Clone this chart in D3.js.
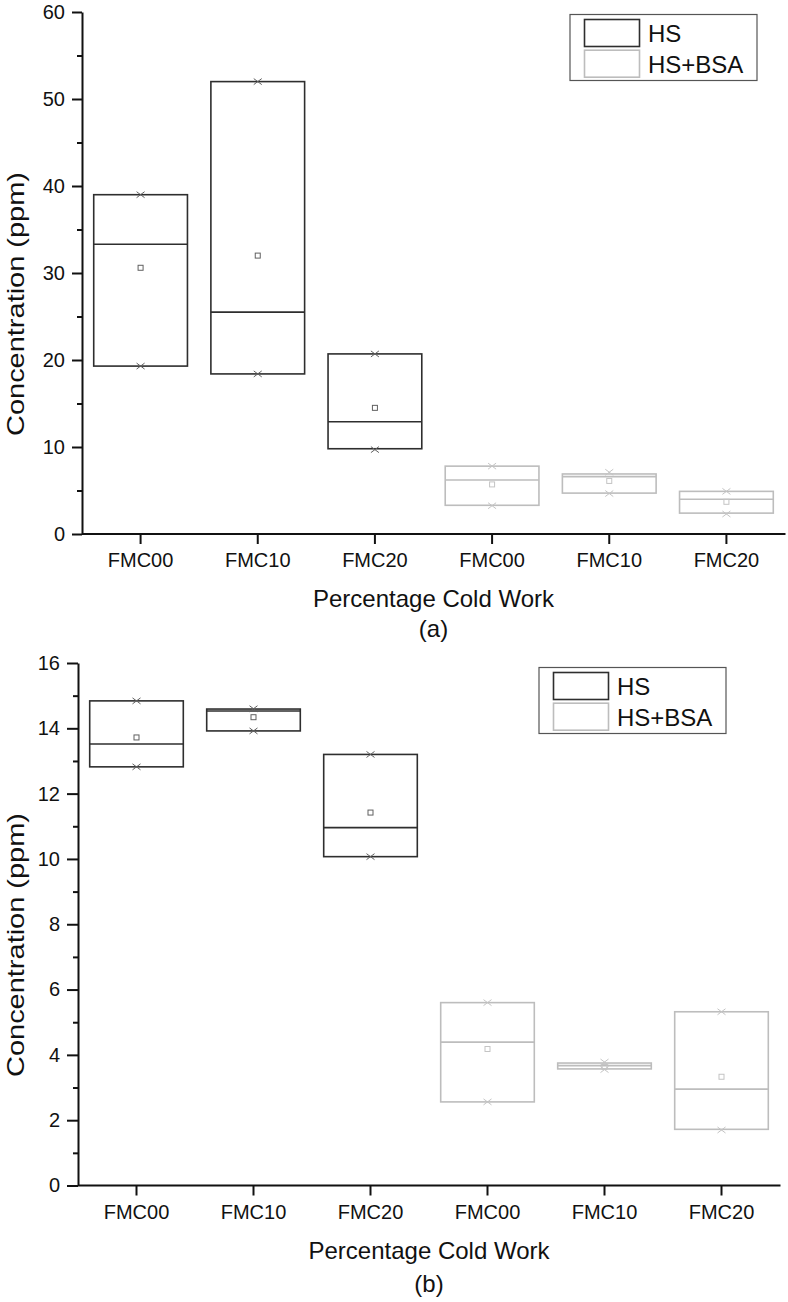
<!DOCTYPE html>
<html>
<head>
<meta charset="utf-8">
<script src="https://cdn.jsdelivr.net/npm/d3@7"></script>
<style>
  body{margin:0;background:#fff;}
  text{font-family:"Liberation Sans",Arial,sans-serif;fill:#111;}
</style>
</head>
<body>
<div class="content"></div>
<script>
const SVG_WIDTH = 788;
const SVG_HEIGHT = 1302;

// categories along the x axis (same names repeat for the two series)
const groups = ["FMC00","FMC10","FMC20","FMC00","FMC10","FMC20"];
const series = ["HS","HS","HS","HS+BSA","HS+BSA","HS+BSA"];
const seriesNames = ["HS","HS+BSA"];

// panel (a)
const boxLowA  = [19.3, 18.4, 9.8, 3.3, 4.7, 2.4];
const boxHighA = [39.0, 52.0, 20.7, 7.8, 6.9, 4.9];
const medianA  = [33.3, 25.5, 12.9, 6.2, 6.6, 4.0];
const meanA    = [30.6, 32.0, 14.5, 5.7, 6.1, 3.7];
const minA     = [19.3, 18.4, 9.7, 3.25, 4.65, 2.3];
const maxA     = [39.0, 52.0, 20.7, 7.8, 7.1, 4.9];
const ticksA   = [0,10,20,30,40,50,60];

// panel (b)
const boxLowB  = [12.82, 13.92, 10.07, 2.56, 3.57, 1.72];
const boxHighB = [14.84, 14.59, 13.2, 5.6, 3.75, 5.32];
const medianB  = [13.52, 14.53, 10.96, 4.39, 3.67, 2.95];
const meanB    = [13.72, 14.34, 11.42, 4.18, 3.63, 3.33];
const minB     = [12.82, 13.92, 10.07, 2.56, 3.55, 1.7];
const maxB     = [14.84, 14.6, 13.2, 5.6, 3.78, 5.32];
const ticksB   = [0,2,4,6,8,10,12,14,16];

const strokeColor = {"HS":"#2e2e2e","HS+BSA":"#bdbdbd"};
const markColor = {"HS":"#606060","HS+BSA":"#c4c4c4"};

const svg = d3.select(".content").append("svg").attr("width",SVG_WIDTH).attr("height",SVG_HEIGHT);

function drawPanel(p){
    let rows = groups.map((g,i)=>({i:i,group:g,series:series[i],lo:p.lo[i],hi:p.hi[i],med:p.med[i],mean:p.mean[i],min:p.min[i],max:p.max[i]}));

    let x = d3.scaleBand().domain(d3.range(groups.length)).range([p.left,p.right]).paddingInner(0.2).paddingOuter(0.1);
    let y = d3.scaleLinear().domain([0,p.ymax]).range([p.bottom,p.top]);
    let g = svg.append("g");

    //minor ticks
    let minor = d3.range(p.ticks[0]+p.minorStep, p.ymax, p.ticks[1]-p.ticks[0]);
    g.append("g").attr("transform","translate("+p.left+",0)")
        .call(d3.axisLeft(y).tickValues(minor).tickSize(5).tickFormat(""))
        .call(a=>a.select(".domain").remove())
        .call(a=>a.selectAll("line").attr("stroke","#111").attr("stroke-width",2));

    //major ticks + labels
    g.append("g").attr("transform","translate("+p.left+",0)")
        .call(d3.axisLeft(y).tickValues(p.ticks).tickSize(p.tickLen).tickSizeOuter(0).tickPadding(7).tickFormat(d3.format("d")))
        .call(a=>a.select(".domain").attr("stroke","#111").attr("stroke-width",2))
        .call(a=>a.selectAll("line").attr("stroke","#111").attr("stroke-width",2))
        .call(a=>a.selectAll("text").style("font-size","20px").style("font-family","Liberation Sans, Arial, sans-serif").attr("fill","#111"));

    //x axis
    g.append("g").attr("transform","translate(0,"+p.bottom+")")
        .call(d3.axisBottom(x).tickSizeOuter(0).tickSize(10).tickPadding(9).tickFormat(i=>groups[i]))
        .call(a=>a.select(".domain").attr("stroke","#111").attr("stroke-width",2).attr("d","M"+p.left+",0H"+(p.right+0.5)))
        .call(a=>a.selectAll("line").attr("stroke","#111").attr("stroke-width",2))
        .call(a=>a.selectAll("text").style("font-size","20px").style("font-family","Liberation Sans, Arial, sans-serif").attr("fill","#111"));

    //boxes
    let bw = x.bandwidth();
    let boxes = g.append("g").selectAll("g").data(rows).join("g")
        .attr("transform",d=>"translate("+x(d.i)+",0)");
    boxes.append("rect")
        .attr("x",0).attr("width",bw)
        .attr("y",d=>y(d.hi)).attr("height",d=>y(d.lo)-y(d.hi))
        .attr("fill","none").attr("stroke",d=>strokeColor[d.series]).attr("stroke-width",1.6);
    boxes.append("line")
        .attr("x1",0).attr("x2",bw)
        .attr("y1",d=>y(d.med)).attr("y2",d=>y(d.med))
        .attr("stroke",d=>strokeColor[d.series]).attr("stroke-width",1.6);
    //mean square
    boxes.append("rect")
        .attr("x",bw/2-2.5).attr("y",d=>y(d.mean)-2.5).attr("width",5).attr("height",5)
        .attr("fill","none").attr("stroke",d=>markColor[d.series]).attr("stroke-width",1);
    //min/max crosses
    let cross = (cy)=>"M"+(bw/2-4)+","+(cy-3)+"L"+(bw/2+4)+","+(cy+3)+"M"+(bw/2-4)+","+(cy+3)+"L"+(bw/2+4)+","+(cy-3);
    boxes.append("path")
        .attr("d",d=>cross(y(d.min))+cross(y(d.max)))
        .attr("stroke",d=>markColor[d.series]).attr("stroke-width",1).attr("fill","none");

    //axis titles
    g.append("text").text("Percentage Cold Work")
        .attr("x",(p.left+p.right)/2).attr("y",p.bottom+73)
        .attr("text-anchor","middle").style("font-size","24px");
    g.append("text").text(p.label)
        .attr("x",(p.left+p.right)/2).attr("y",p.bottom+p.labelOffset)
        .attr("text-anchor","middle").style("font-size","24px");
    g.append("text").text("Concentration (ppm)")
        .attr("transform","translate(24,"+p.ylabelY+") rotate(-90)")
        .attr("text-anchor","middle").style("font-size","24px")
        .attr("textLength",264).attr("lengthAdjust","spacingAndGlyphs");

    //legend
    let lg = g.append("g").attr("transform","translate("+p.legendX+","+p.legendY+")");
    lg.append("rect").attr("x",0).attr("y",0).attr("width",187).attr("height",66)
        .attr("fill","none").attr("stroke","#555").attr("stroke-width",1.2);
    lg.selectAll(".sw").data(seriesNames).join("rect").attr("class","sw")
        .attr("x",14.5).attr("y",(d,i)=>5+i*30.7).attr("width",55).attr("height",27)
        .attr("fill","none").attr("stroke",d=>strokeColor[d]).attr("stroke-width",1.6);
    lg.selectAll(".lt").data(seriesNames).join("text").attr("class","lt")
        .attr("x",78).attr("y",(d,i)=>27+i*31)
        .style("font-size","24px").text(d=>d);
}

drawPanel({lo:boxLowA,hi:boxHighA,med:medianA,mean:meanA,min:minA,max:maxA,ticks:ticksA,minorStep:5,
           ymax:60,left:82,right:785,top:12,bottom:534,tickLen:10,label:"(a)",labelOffset:103,ylabelY:304,legendX:570,legendY:14.5});
drawPanel({lo:boxLowB,hi:boxHighB,med:medianB,mean:meanB,min:minB,max:maxB,ticks:ticksB,minorStep:1,
           ymax:16,left:78,right:780,top:663,bottom:1185.5,tickLen:11,label:"(b)",labelOffset:106,ylabelY:945,legendX:539,legendY:667.5});
</script>
</body>
</html>
